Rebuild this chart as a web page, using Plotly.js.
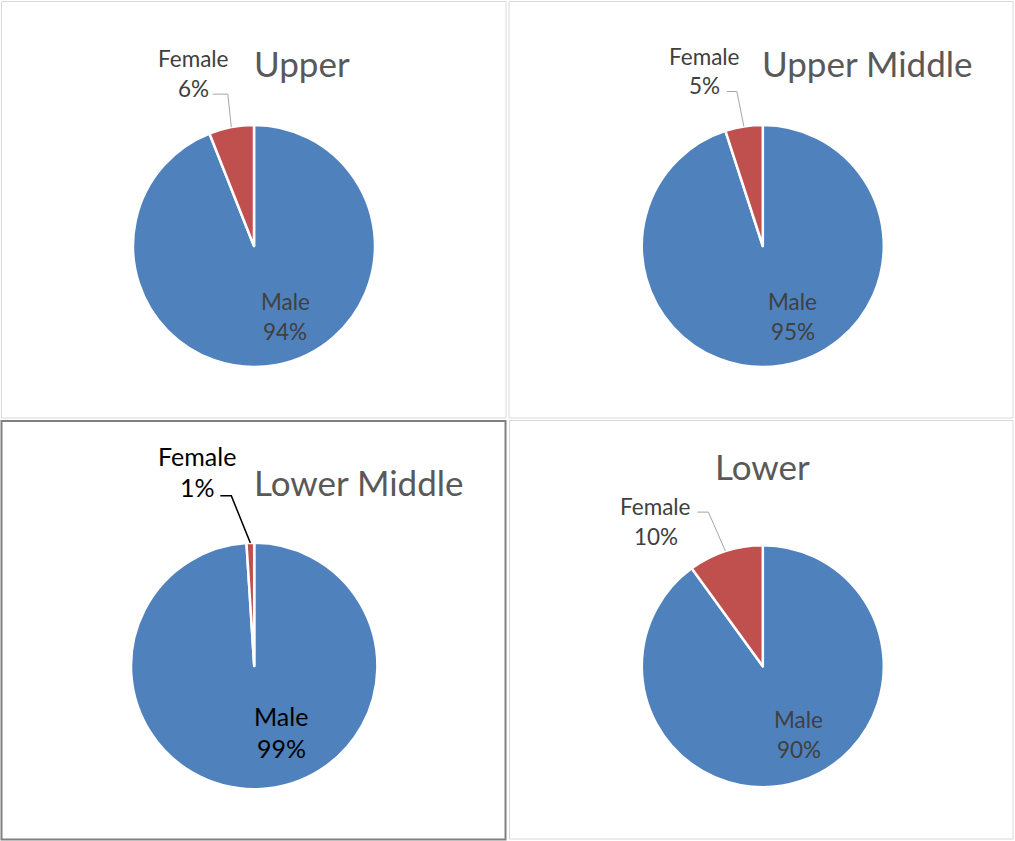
<!DOCTYPE html>
<html>
<head>
<meta charset="utf-8">
<script src="https://cdn.plot.ly/plotly-3.0.1.min.js"></script>
<style>
  html, body { margin: 0; padding: 0; background: #ffffff; }
  #chart { width: 1015px; height: 841px; }
</style>
</head>
<body>
<div id="chart"></div>
<script>
// ---------------- DATA ----------------
const chartTitles = ['Upper', 'Upper Middle', 'Lower Middle', 'Lower'];
const categories = ['Male', 'Female'];
const maleShare = [94, 95, 99, 90];
const femaleShare = [6, 5, 1, 10];

// ---------------- LAYOUT / STYLE ----------------
const W = 1015, H = 841;
const FONT = 'Lato, "Open Sans", sans-serif';
const COLORS = { Male: '#4f81bd', Female: '#c0504d' };

// per panel geometry (pixels)
const panels = [
  { cx: 254.0, cy: 246.0, r: 121.0, box: [1.5, 1.5, 506.0, 418.0], boxColor: '#d9d9d9', boxWidth: 1,
    title: [301.5, 63], labelColor: '#404040', leaderColor: '#a6a6a6', labelSize: 22.5,
    maleOff: [31, 55, 85], femaleOff: [-61, -188, -158], elbow: [-3.5, -33], hook: 15 },
  { cx: 762.8, cy: 246.0, r: 121.0, box: [509.0, 1.5, 1013.0, 418.0], boxColor: '#d9d9d9', boxWidth: 1,
    title: [867.0, 63], labelColor: '#404040', leaderColor: '#a6a6a6', labelSize: 22.5,
    maleOff: [30, 55, 85], femaleOff: [-58, -190, -161], elbow: [-7, -35], hook: 10 },
  { cx: 254.2, cy: 666.0, r: 123.2, box: [1.5, 421.0, 505.5, 839.5], boxColor: '#808080', boxWidth: 2,
    title: [358.5, 482], labelColor: '#000000', leaderColor: '#000000', labelSize: 25,
    maleOff: [27, 50, 82], femaleOff: [-57, -210, -179], elbow: [-19, -47], hook: 11 },
  { cx: 762.8, cy: 666.2, r: 121.0, box: [509.5, 420.5, 1013.0, 839.0], boxColor: '#d9d9d9', boxWidth: 1,
    title: [762.5, 466], labelColor: '#404040', leaderColor: '#a6a6a6', labelSize: 22.5,
    maleOff: [36, 53, 83], femaleOff: [-107, -160, -130], elbow: [-17, -39], hook: 11 }
];

const px = x => x / W;
const py = y => 1 - y / H;

const traces = [];
const annotations = [];
const shapes = [];

panels.forEach((p, i) => {
  const vals = [maleShare[i], femaleShare[i]];
  const total = vals[0] + vals[1];
  traces.push({
    type: 'pie',
    labels: categories,
    values: vals,
    sort: false,
    direction: 'clockwise',
    rotation: 0,
    textinfo: 'none',
    hoverinfo: 'label+percent',
    showlegend: false,
    marker: { colors: categories.map(c => COLORS[c]), line: { color: '#ffffff', width: 2.5 } },
    domain: { x: [px(p.cx - p.r), px(p.cx + p.r)], y: [py(p.cy + p.r), py(p.cy - p.r)] }
  });

  // panel border
  shapes.push({ type: 'rect', xref: 'paper', yref: 'paper',
    x0: px(p.box[0]), x1: px(p.box[2]), y0: py(p.box[3]), y1: py(p.box[1]),
    line: { color: p.boxColor, width: p.boxWidth }, fillcolor: 'rgba(0,0,0,0)', layer: 'below' });

  // title
  annotations.push({ xref: 'paper', yref: 'paper', x: px(p.title[0]), y: py(p.title[1]),
    xanchor: 'center', yanchor: 'middle', showarrow: false, text: chartTitles[i],
    font: { family: FONT, size: 35, color: '#595959' } });

  const pct = v => Math.round(v / total * 100) + '%';

  // male label (inside)
  annotations.push({ xref: 'paper', yref: 'paper', x: px(p.cx + p.maleOff[0]), y: py(p.cy + p.maleOff[1]),
    xanchor: 'center', yanchor: 'middle', showarrow: false, text: categories[0],
    font: { family: FONT, size: p.labelSize, color: p.labelColor } });
  annotations.push({ xref: 'paper', yref: 'paper', x: px(p.cx + p.maleOff[0]), y: py(p.cy + p.maleOff[2]),
    xanchor: 'center', yanchor: 'middle', showarrow: false, text: pct(vals[0]),
    font: { family: FONT, size: p.labelSize, color: p.labelColor } });

  // female label (outside)
  annotations.push({ xref: 'paper', yref: 'paper', x: px(p.cx + p.femaleOff[0]), y: py(p.cy + p.femaleOff[1]),
    xanchor: 'center', yanchor: 'middle', showarrow: false, text: categories[1],
    font: { family: FONT, size: p.labelSize, color: p.labelColor } });
  annotations.push({ xref: 'paper', yref: 'paper', x: px(p.cx + p.femaleOff[0]), y: py(p.cy + p.femaleOff[2]),
    xanchor: 'center', yanchor: 'middle', showarrow: false, text: pct(vals[1]),
    font: { family: FONT, size: p.labelSize, color: p.labelColor } });

  // leader line: from the female slice's outer-edge midpoint
  const midAng = -(vals[1] / total) * Math.PI; // half of female slice, counter-clockwise from top
  const tx = p.cx + p.r * Math.sin(midAng);
  const ty = p.cy - p.r * Math.cos(midAng);
  const ex = tx + p.elbow[0], ey = ty + p.elbow[1];
  const hx = ex - p.hook;
  shapes.push({ type: 'path', xref: 'paper', yref: 'paper',
    path: `M ${px(tx)},${py(ty)} L ${px(ex)},${py(ey)} L ${px(hx)},${py(ey)}`,
    line: { color: p.leaderColor, width: i === 2 ? 1.5 : 1 } });
});

const layout = {
  width: W, height: H,
  margin: { l: 0, r: 0, t: 0, b: 0 },
  paper_bgcolor: '#ffffff',
  showlegend: false,
  annotations: annotations,
  shapes: shapes
};

Plotly.newPlot('chart', traces, layout, { displayModeBar: false, staticPlot: true });
</script>
</body>
</html>
